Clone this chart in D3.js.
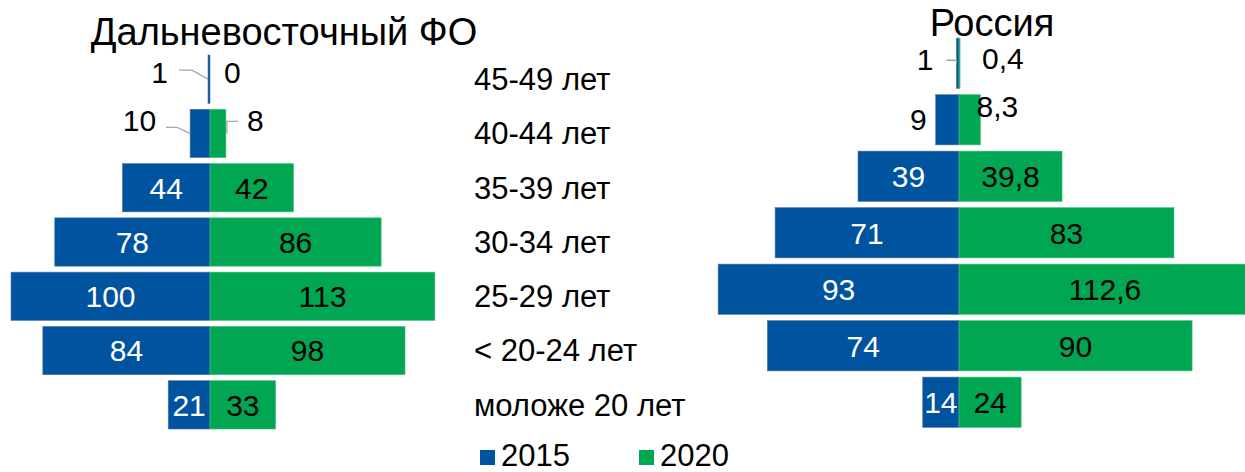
<!DOCTYPE html>
<html>
<head>
<meta charset="utf-8">
<script src="https://cdn.jsdelivr.net/npm/d3@7"></script>
<style>
  body { margin: 0; background: #fff; }
  svg { display: block; font-family: "Liberation Sans", Arial, sans-serif; }
</style>
</head>
<body>
<svg id="chart" width="1245" height="472"></svg>
<script>
// age groups, top to bottom
var ageGroups = ["45-49 лет", "40-44 лет", "35-39 лет", "30-34 лет", "25-29 лет", "< 20-24 лет", "моложе 20 лет"];
var seriesNames = ["2015", "2020"];

// Дальневосточный ФО
var dfo2015 = [1, 10, 44, 78, 100, 84, 21];
var dfo2020 = [0, 8, 42, 86, 113, 98, 33];

// Россия
var rus2015 = [1, 9, 39, 71, 93, 74, 14];
var rus2020 = [0.4, 8.3, 39.8, 83, 112.6, 90, 24];

var colors = { blue: "#00539f", green: "#00a651", leader: "#a6a6a6" };
var fs = 30;

var svg = d3.select("#chart");

// labels of the small bars sit outside, some with a leader line
// dx/dy relative to bar end and row centre, leader points likewise
var panels = [
	{
		title: "Дальневосточный ФО", titleX: 284, titleY: 45,
		left: dfo2015, right: dfo2020,
		cx: 210, pxPerUnit: 1.99, yRange: [52, 432],
		outside: [
			{ row: 0, side: 0, dx: -40, dy: 4, anchor: "end", leader: [[-29, -9], [-16, -9], [0, 0]] },
			{ row: 0, side: 1, dx: 14, dy: 4, anchor: "start" },
			{ row: 1, side: 0, dx: -34, dy: -2, anchor: "end", leader: [[-24, -6], [-13, -6], [0, 0]] },
			{ row: 1, side: 1, dx: 21, dy: -2, anchor: "start", leader: [[12, -12], [1, -12], [1, 0]] }
		]
	},
	{
		title: "Россия", titleX: 992, titleY: 36,
		left: rus2015, right: rus2020,
		cx: 959, pxPerUnit: 2.59, yRange: [35, 430.5],
		outside: [
			{ row: 0, side: 0, dx: -23, dy: 7, anchor: "end", leader: [[-10, -3], [0, -3], [0, 0]] },
			{ row: 0, side: 1, dx: 22, dy: 6, anchor: "start" },
			{ row: 1, side: 0, dx: -9, dy: 10, anchor: "end" },
			{ row: 1, side: 1, dx: -4, dy: -3, anchor: "start" }
		]
	}
];

function fmt(v) { return String(v).replace(".", ","); }

var leftY;

panels.forEach(function(p, pi) {
	var y = d3.scaleBand().domain(ageGroups).range(p.yRange).paddingInner(0.11).paddingOuter(0.055);
	if (pi == 0) leftY = y;

	var xl = d3.scaleLinear().domain([0, 100]).range([p.cx, p.cx - 100 * p.pxPerUnit]);
	var xr = d3.scaleLinear().domain([0, 100]).range([p.cx, p.cx + 100 * p.pxPerUnit]);

	var g = svg.append("g").attr("class", "panel");

	g.append("text")
		.attr("x", p.titleX).attr("y", p.titleY)
		.attr("text-anchor", "middle")
		.attr("font-size", 38)
		.text(p.title);

	var sides = [
		{ vals: p.left, x: xl, color: colors.blue, stroke: "#5577aa", textColor: "#fff" },
		{ vals: p.right, x: xr, color: colors.green, stroke: "#4cc283", textColor: "#000" }
	];

	sides.forEach(function(s, si) {
		g.append("g").selectAll("rect")
			.data(s.vals)
			.enter().append("rect")
			.attr("x", function(d) { return Math.min(s.x(0), s.x(d)); })
			.attr("y", function(d, i) { return y(ageGroups[i]); })
			.attr("width", function(d) { return Math.abs(s.x(d) - s.x(0)); })
			.attr("height", y.bandwidth())
			.attr("fill", s.color)
			.attr("stroke", function(d) { return d > 0 ? s.stroke : "none"; })
			.attr("stroke-width", 0.6);

		s.vals.forEach(function(v, i) {
			var cy = y(ageGroups[i]) + y.bandwidth() / 2;
			var o = p.outside.find(function(e) { return e.row == i && e.side == si; });
			if (o) {
				var ex = s.x(v), ey = cy;
				if (o.leader) {
					g.append("polyline")
						.attr("points", o.leader.map(function(pt) { return (ex + pt[0]) + "," + (ey + pt[1]); }).join(" "))
						.attr("fill", "none")
						.attr("stroke", colors.leader)
						.attr("stroke-width", 1.3);
				}
				g.append("text")
					.attr("x", ex + o.dx).attr("y", ey + o.dy)
					.attr("text-anchor", o.anchor)
					.attr("font-size", fs)
					.attr("fill", "#000")
					.text(fmt(v));
			} else {
				g.append("text")
					.attr("x", (s.x(0) + s.x(v)) / 2)
					.attr("y", cy + fs * 0.36)
					.attr("text-anchor", "middle")
					.attr("font-size", fs)
					.attr("fill", s.textColor)
					.text(fmt(v));
			}
		});
	});
});

// category labels between the panels
svg.append("g").selectAll("text")
	.data(ageGroups)
	.enter().append("text")
	.attr("x", 474)
	.attr("y", function(d) { return leftY(d) + leftY.bandwidth() / 2 + fs * 0.36; })
	.attr("font-size", 31)
	.text(function(d) { return d; });

// legend
var legend = svg.append("g").attr("class", "legend");
var legendX = d3.scalePoint().domain(seriesNames).range([480, 639]);
[colors.blue, colors.green].forEach(function(c, i) {
	var lx = legendX(seriesNames[i]);
	legend.append("rect")
		.attr("x", lx).attr("y", 450)
		.attr("width", 15).attr("height", 15)
		.attr("fill", c);
	legend.append("text")
		.attr("x", lx + 21).attr("y", 466)
		.attr("font-size", 31)
		.text(seriesNames[i]);
});
</script>
</body>
</html>
